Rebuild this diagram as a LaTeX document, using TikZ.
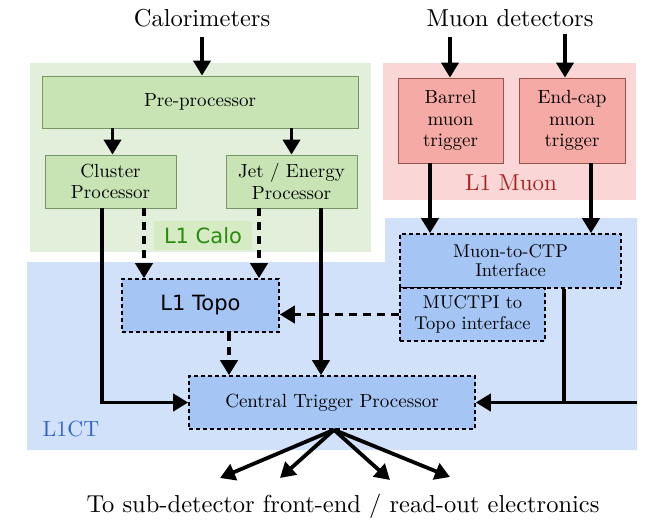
\documentclass[tikz,border=0pt]{standalone}
\usepackage{fontspec}
\setmainfont{lmroman10-regular.otf}[BoldFont=lmroman10-bold.otf,ItalicFont=lmroman10-italic.otf]
\newfontfamily\dejavu{DejaVu Sans}
\usetikzlibrary{arrows.meta}
\definecolor{calobg}{RGB}{226,239,218}
\definecolor{calofill}{RGB}{200,228,180}
\definecolor{caloline}{RGB}{120,150,100}
\definecolor{calolab}{RGB}{214,234,196}
\definecolor{calotext}{RGB}{40,140,15}
\definecolor{muonbg}{RGB}{250,214,214}
\definecolor{muonfill}{RGB}{245,170,165}
\definecolor{muonline}{RGB}{150,85,75}
\definecolor{muontext}{RGB}{165,35,30}
\definecolor{ctbg}{RGB}{210,225,250}
\definecolor{ctfill}{RGB}{165,198,245}
\definecolor{cttext}{RGB}{50,100,200}
\begin{document}
\begin{tikzpicture}[x=1pt,y=-1pt,
  box/.style={draw,line width=0.8pt,align=center,inner sep=0pt,font=\fontsize{19}{21.5}\selectfont},
  calobox/.style={box,fill=calofill,draw=caloline},
  muonbox/.style={box,fill=muonfill,draw=muonline},
  ctbox/.style={box,fill=ctfill,draw=black,line width=1.6pt,dash pattern=on 4pt off 3pt},
  arr/.style={line width=3.8pt,-{Triangle[width=17pt,length=15pt]}},
  darr/.style={arr,dash pattern=on 8pt off 6pt},
  wire/.style={line width=3.8pt},
  head/.style={font=\fontsize{24.5}{28}\selectfont}]
\useasboundingbox (0,0) rectangle (650,523);
% backgrounds
\fill[ctbg] (27,262) -- (385,262) -- (385,218) -- (637,218) -- (637,450) -- (27,450) -- cycle;
\fill[calobg] (30,63) rectangle (371,252);
\fill[muonbg] (383,63) rectangle (636,200);
% inputs
\node[head] (cal) at (202,18) {Calorimeters};
\node[head] (mudet) at (510,18) {Muon detectors};
% L1 Calo
\node[calobox,minimum width=316,minimum height=52] (pre) at (200,102) {Pre-processor};
\node[calobox,minimum width=131,minimum height=53] (clus) at (110.5,181.5) {Cluster\\Processor};
\node[calobox,minimum width=131,minimum height=53] (jet) at (291.5,181.5) {Jet / Energy\\Processor};
\node[fill=calolab,text=calotext,minimum width=98,minimum height=29,inner sep=0pt,font=\dejavu\fontsize{21}{24}\selectfont] (calolbl) at (203,235.5) {L1 Calo};
% L1 Muon
\node[muonbox,minimum width=105,minimum height=85] (barrel) at (450.5,120.5) {Barrel\\muon\\trigger};
\node[muonbox,minimum width=106,minimum height=85] (endcap) at (572,120.5) {End-cap\\muon\\trigger};
\node[text=muontext,font=\fontsize{23}{26}\selectfont] (muonlbl) at (511,183) {L1 Muon};
% L1CT
\node[ctbox,minimum width=157,minimum height=53,font=\dejavu\fontsize{21}{24}\selectfont] (topo) at (200.5,305.5) {L1 Topo};
\node[ctbox,minimum width=286,minimum height=53] (ctp) at (332,402.5) {Central Trigger Processor};
\node[ctbox,minimum width=221,minimum height=54,font=\fontsize{18.5}{19}\selectfont] (mctp) at (510.5,261) {Muon-to-CTP\\Interface};
\node[ctbox,minimum width=145,minimum height=53,font=\fontsize{18.5}{20.5}\selectfont] (muctpi) at (472.5,314.5) {MUCTPI to\\Topo interface};
\node[text=cttext,font=\fontsize{22}{25}\selectfont] (ctlbl) at (71,429) {L1CT};
\node[head] (out) at (343,506) {To sub-detector front-end / read-out electronics};
% connectors
\draw[arr,shorten <=7pt] (cal.south) -- (cal.south |- pre.north);
\draw[arr,shorten <=7pt] ([xshift=-60]mudet.south) -- ([xshift=-60]mudet.south |- barrel.north);
\draw[arr,shorten <=4pt] ([xshift=55]mudet.south) -- ([xshift=55]mudet.south |- endcap.north);
\draw[arr] ([xshift=2]pre.south -| clus) -- ([xshift=2]clus.north);
\draw[arr] (pre.south -| jet) -- (jet.north);
\draw[darr] ([xshift=33.5]clus.south) -- ([xshift=33.5]clus.south |- topo.north);
\draw[darr] ([xshift=-32.5]jet.south) -- ([xshift=-32.5]jet.south |- topo.north);
\draw[arr] ([xshift=-8.5]clus.south) |- (ctp.west);
\draw[arr] ([xshift=29.5]jet.south) -- ([xshift=29.5]jet.south |- ctp.north);
\draw[darr] ([xshift=28.5]topo.south) -- ([xshift=28.5]topo.south |- ctp.north);
\draw[darr] (muctpi.west) -- (muctpi.west -| topo.east);
\draw[arr] ([xshift=-20.5]barrel.south) -- ([xshift=-20.5]barrel.south |- mctp.north);
\draw[arr] ([xshift=19]endcap.south) -- ([xshift=19]endcap.south |- mctp.north);
\draw[wire] ([xshift=53.5]mctp.south) -- ([xshift=53.5]mctp.south |- ctp.east);
\coordinate (rin) at (637,402.5);
\draw[arr] (rin) -- (ctp.east);
% outputs
\coordinate (o1) at (220,478);
\coordinate (o2) at (280,478);
\coordinate (o3) at (390,480);
\coordinate (o4) at (450,477);
\foreach \o in {o1,o2,o3,o4}
  \draw[arr] ([xshift=2]ctp.south) -- (\o);
\end{tikzpicture}
\end{document}
